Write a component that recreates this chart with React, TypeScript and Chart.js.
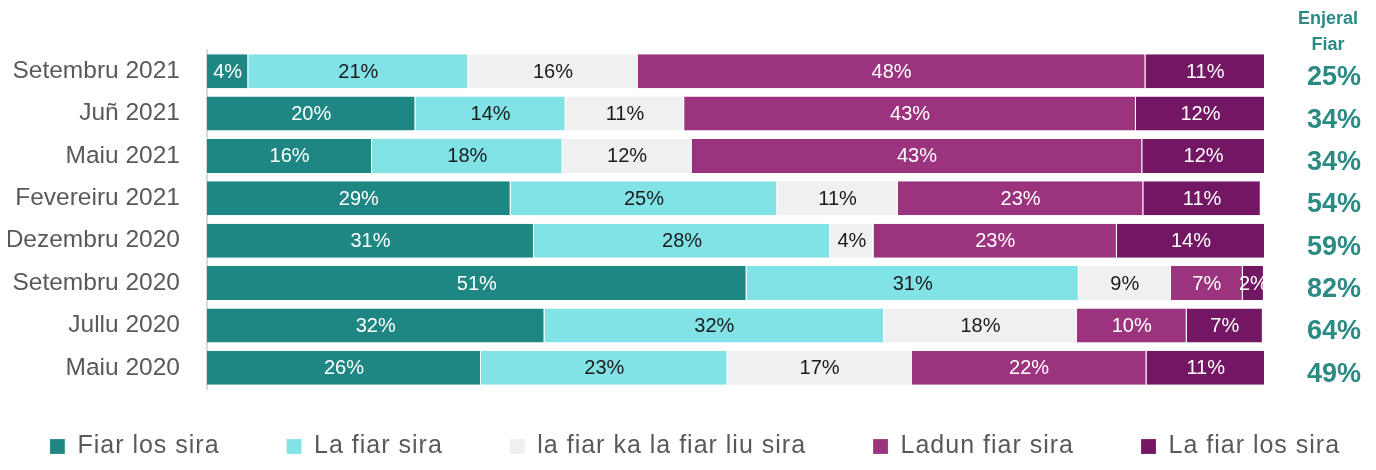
import React, { useEffect, useRef } from "react";
import { Chart, registerables } from "chart.js";

Chart.register(...registerables);

const categories = [
  "Setembru 2021",
  "Juñ 2021",
  "Maiu 2021",
  "Fevereiru 2021",
  "Dezembru 2020",
  "Setembru 2020",
  "Jullu 2020",
  "Maiu 2020",
];

const seriesNames = [
  "Fiar los sira",
  "La fiar sira",
  "la fiar ka la fiar liu sira",
  "Ladun fiar sira",
  "La fiar los sira",
];

const fiarLosSira = [3.9, 19.7, 15.6, 28.7, 30.9, 51.0, 31.9, 25.9];
const laFiarSira = [20.8, 14.2, 18.0, 25.2, 28.0, 31.4, 32.1, 23.3];
const laFiarKaLaFiar = [16.0, 11.2, 12.2, 11.4, 4.1, 8.7, 18.2, 17.4];
const ladunFiarSira = [48.0, 42.7, 42.6, 23.2, 23.0, 6.8, 10.4, 22.2];
const laFiarLosSira = [11.3, 12.2, 11.6, 11.1, 14.0, 2.0, 7.2, 11.2];

const enjeralFiar = [25, 34, 34, 54, 59, 82, 64, 49];
const enjeralTitle = ["Enjeral", "Fiar"];

const colors = ["#1f8783", "#82e3e7", "#f0f0f0", "#9c337e", "#731764"];
const labelColors = ["#ffffff", "#1a1a1a", "#1a1a1a", "#ffffff", "#ffffff"];
const teal = "#2a8a84";
const FONT = "'Liberation Sans', Arial, sans-serif";

export default function App() {
  const ref = useRef<HTMLCanvasElement | null>(null);

  useEffect(() => {
    if (!ref.current) return;
    const seriesData = [fiarLosSira, laFiarSira, laFiarKaLaFiar, ladunFiarSira, laFiarLosSira];

    const legendTweak = {
      id: "legendTweak",
      beforeInit(chart: any) {
        const legend = chart.legend;
        if (!legend) return;
        const origFit = legend.fit;
        legend.fit = function () {
          const ctx = this.ctx;
          const mw = this.maxWidth;
          ctx.save();
          (ctx as any).letterSpacing = "1px";
          this.maxWidth = 5000;
          origFit.call(this);
          this.maxWidth = mw;
          ctx.restore();
          if (this.isHorizontal && this.isHorizontal()) {
            this.width = mw;
            this.height = 81;
          }
        };
        legend.draw = function () {
          if (!this.options.display) return;
          const ctx = this.ctx;
          const l = this.left;
          const r = this.right;
          const t = this.top;
          this.left = l - 300;
          this.right = r + 300;
          this.top = t - 22;
          ctx.save();
          ctx.translate(7, 0);
          (ctx as any).letterSpacing = "1px";
          this._draw();
          ctx.restore();
          this.left = l;
          this.right = r;
          this.top = t;
        };
      },
    };

    const barLabels = {
      id: "barLabels",
      afterDatasetsDraw(chart: any) {
        const ctx = chart.ctx;
        const area = chart.chartArea;
        ctx.save();
        ctx.beginPath();
        ctx.rect(area.left, area.top, area.right - area.left, area.bottom - area.top);
        ctx.clip();
        ctx.font = `20px ${FONT}`;
        ctx.textAlign = "center";
        ctx.textBaseline = "middle";
        chart.data.datasets.forEach((ds: any, di: number) => {
          const meta = chart.getDatasetMeta(di);
          meta.data.forEach((el: any, i: number) => {
            const v = ds.data[i];
            const p = el.getProps(["x", "y", "base"], true);
            ctx.fillStyle = labelColors[di];
            ctx.fillText(`${Math.round(v)}%`, (p.x + p.base) / 2, p.y + 1);
          });
        });
        ctx.restore();
      },
    };

    const netColumn = {
      id: "netColumn",
      afterDraw(chart: any) {
        const ctx = chart.ctx;
        const yScale = chart.scales.y;
        ctx.save();
        ctx.fillStyle = teal;
        ctx.textAlign = "center";
        ctx.textBaseline = "alphabetic";
        ctx.font = `bold 18px ${FONT}`;
        ctx.fillText(enjeralTitle[0], 1320, 16);
        ctx.fillText(enjeralTitle[1], 1320, 42);
        ctx.font = `bold 27px ${FONT}`;
        enjeralFiar.forEach((v, i) => {
          const y = yScale.getPixelForValue(i);
          ctx.fillText(`${v}%`, 1326, y + 14);
        });
        ctx.restore();
      },
    };

    const chart = new Chart(ref.current, {
      type: "bar",
      data: {
        labels: categories,
        datasets: seriesNames.map((name, i) => ({
          label: name,
          data: seriesData[i],
          backgroundColor: colors[i],
          borderColor: "rgba(255,255,255,0.7)",
          borderWidth: { top: 0, bottom: 0, left: 0, right: 1 },
          borderSkipped: false,
          barPercentage: 0.8,
          categoryPercentage: 1.0,
        })),
      },
      options: {
        indexAxis: "y",
        animation: false,
        responsive: true,
        maintainAspectRatio: false,
        layout: { padding: { top: 42, left: 0, right: 0, bottom: 0 } },
        scales: {
          x: {
            stacked: true,
            min: 0,
            max: 100,
            display: false,
          },
          y: {
            stacked: true,
            position: "left",
            grid: { display: false, drawTicks: false },
            border: { display: true, color: "#d9d9d9", width: 2 },
            ticks: {
              padding: 27,
              color: "#595959",
              font: { family: FONT, size: 24.5 },
            },
            afterFit(scale: any) {
              scale.width = 199;
            },
          },
          yRight: {
            type: "linear",
            position: "right",
            display: true,
            grid: { display: false, drawTicks: false },
            border: { display: false },
            ticks: { display: false },
            afterFit(scale: any) {
              scale.width = 103;
            },
          },
        },
        plugins: {
          tooltip: { enabled: false },
          legend: {
            position: "bottom",
            labels: {
              boxWidth: 15,
              boxHeight: 15,
              padding: 67,
              color: "#595959",
              font: { family: FONT, size: 25 },
            },
          },
        },
      },
      plugins: [legendTweak, barLabels, netColumn],
    } as any);

    return () => chart.destroy();
  }, []);

  return (
    <div style={{ position: "relative", width: 1360, height: 462, marginBottom: -8 }}>
      <canvas ref={ref} />
    </div>
  );
}
